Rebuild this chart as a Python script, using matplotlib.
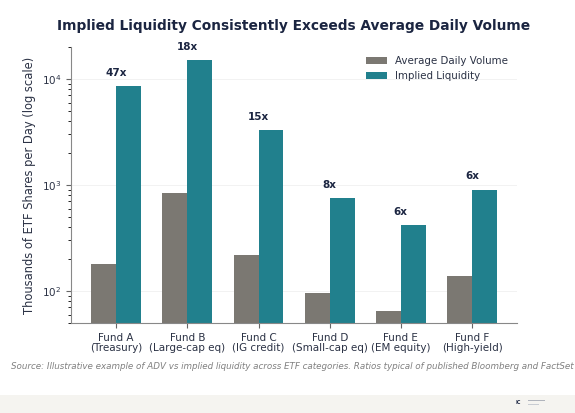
import matplotlib
matplotlib.use("Agg")
import matplotlib.pyplot as plt
import numpy as np
from matplotlib.patches import Rectangle

categories = ["Fund A\n(Treasury)", "Fund B\n(Large-cap eq)", "Fund C\n(IG credit)",
              "Fund D\n(Small-cap eq)", "Fund E\n(EM equity)", "Fund F\n(High-yield)"]
adv = [180, 850, 220, 95, 65, 140]
implied = [8500, 15000, 3300, 750, 420, 900]
ratio_labels = ["47x", "18x", "15x", "8x", "6x", "6x"]

gray = "#7b7872"
teal = "#21808d"
navy = "#1b2541"
textc = "#2b3245"

fig = plt.figure(figsize=(5.75, 4.13), dpi=100)
fig.patch.set_facecolor("white")
# footer strip
fig.patches.append(Rectangle((0, 0), 1, 0.0436, transform=fig.transFigure,
                             facecolor="#f5f4f0", edgecolor="none", zorder=0))
fig.text(0.897, 0.026, "IC", fontsize=3.5, fontweight="bold", color=navy, va="center")
fig.patches.append(Rectangle((0.918, 0.028), 0.03, 0.003, transform=fig.transFigure,
                             facecolor="#b0b4bc", edgecolor="none"))
fig.patches.append(Rectangle((0.918, 0.020), 0.02, 0.003, transform=fig.transFigure,
                             facecolor="#c8ccd2", edgecolor="none"))

ax = fig.add_axes([0.1235, 0.218, 0.776, 0.668])
x = np.arange(len(categories))
w = 0.35
ax.bar(x - w / 2, adv, w, color=gray, label="Average Daily Volume", zorder=2)
ax.bar(x + w / 2, implied, w, color=teal, label="Implied Liquidity", zorder=2)
ax.set_yscale("log")
ax.set_ylim(50, 20000)
ax.set_xticks(x)
ax.set_xticklabels(categories, fontsize=7.5, linespacing=1.0)
ax.tick_params(axis="y", labelsize=7.5, color="#666666", labelcolor=textc)
ax.tick_params(axis="x", color="#666666", labelcolor=textc, length=3.5)
ax.set_ylabel("Thousands of ETF Shares per Day (log scale)", fontsize=8.3, color=textc,
              labelpad=4)
ax.grid(axis="y", which="major", color="#f0f0f0", linewidth=0.6, zorder=0)
ax.spines["top"].set_visible(False)
ax.spines["right"].set_visible(False)
ax.spines["left"].set_color("#888888")
ax.spines["bottom"].set_color("#888888")

for xi, v, t in zip(x, implied, ratio_labels):
    ax.text(xi, v * 1.2, t, ha="center", va="bottom", fontsize=7.5,
            fontweight="bold", color=navy)

ax.legend(loc="upper right", frameon=False, fontsize=7.4, bbox_to_anchor=(1.0, 1.0),
          labelcolor=textc)

fig.text(0.51, 0.936, "Implied Liquidity Consistently Exceeds Average Daily Volume",
         ha="center", va="center", fontsize=9.9, fontweight="bold", color=navy)
fig.text(0.019, 0.112,
         "Source: Illustrative example of ADV vs implied liquidity across ETF categories. "
         "Ratios typical of published Bloomberg and FactSet estimates.",
         ha="left", va="center", fontsize=6.3, style="italic", color="#808080")

fig.savefig("out.png", dpi=100)
